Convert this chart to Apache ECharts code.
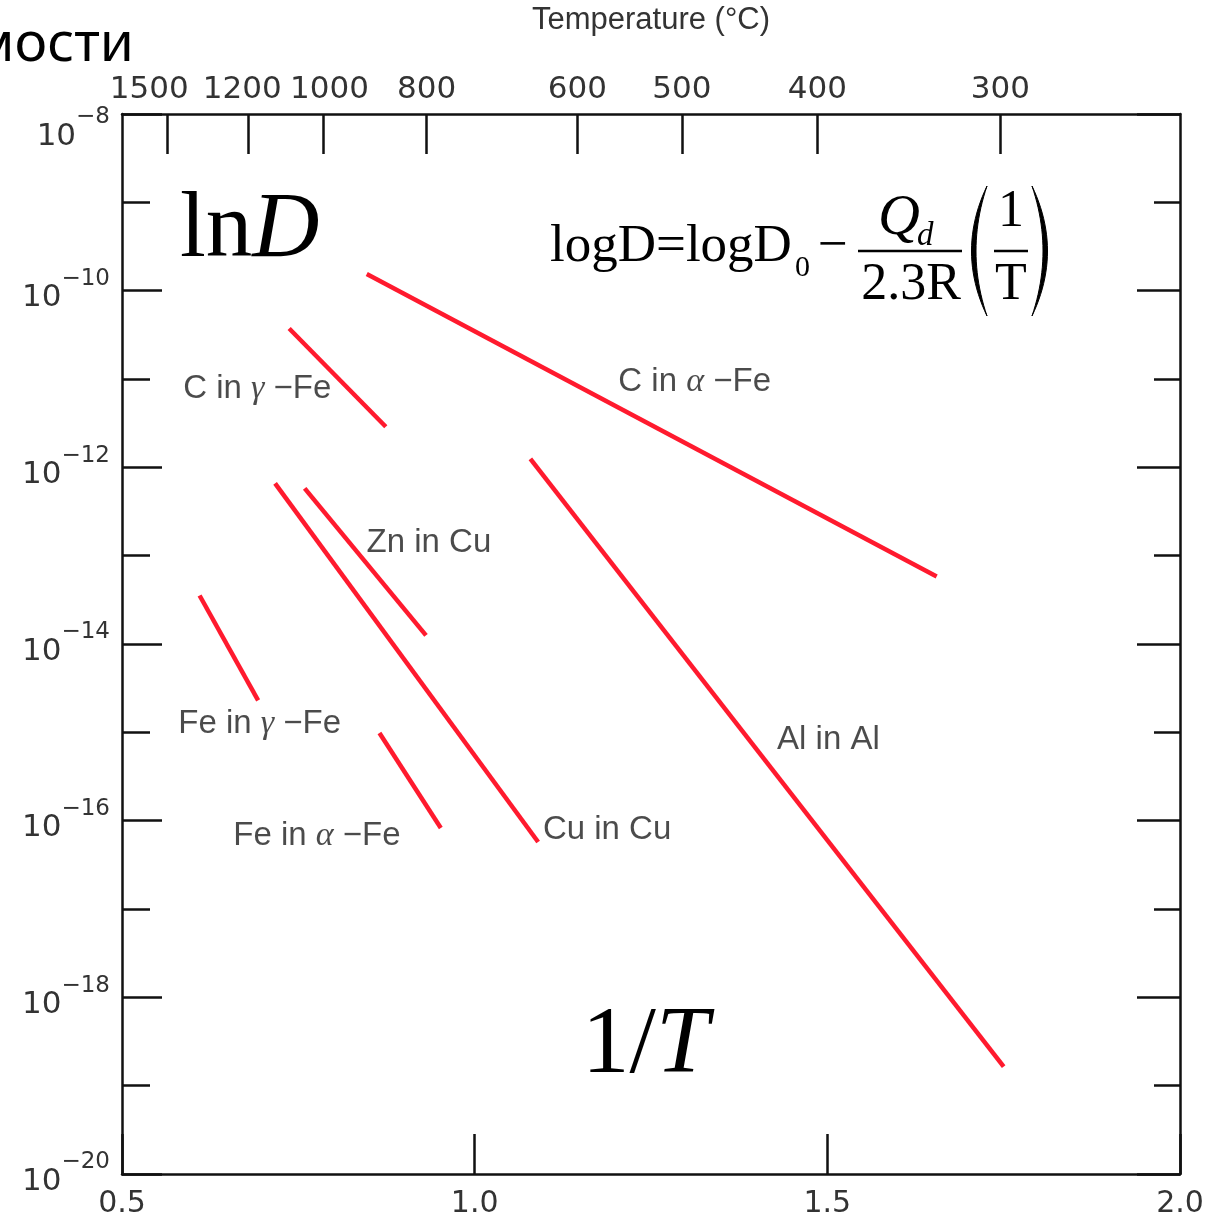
<!DOCTYPE html>
<html>
<head>
<meta charset="utf-8">
<script src="https://cdn.jsdelivr.net/npm/echarts@6/dist/echarts.min.js"></script>
<style>
  html, body { margin: 0; padding: 0; background: #fff; }
  #chart { width: 1211px; height: 1225px; }
</style>
</head>
<body>
<div id="chart"></div>
<script>
// Diffusion coefficient D (m^2/s) against 1000/T (K^-1): [1000/T, D] end points of each couple
const cInAlphaFe = [[0.847, 1.54e-10], [1.655, 5.81e-14]];
const cInGammaFe = [[0.737, 3.73e-11], [0.874, 2.88e-12]];
const znInCu     = [[0.759, 5.78e-13], [0.931, 1.25e-14]];
const cuInCu     = [[0.717, 6.59e-13], [1.090, 5.74e-17]];
const feInGammaFe = [[0.610, 3.54e-14], [0.693, 2.30e-15]];
const feInAlphaFe = [[0.865, 9.82e-16], [0.952, 8.26e-17]];
const alInAl     = [[1.079, 1.245e-12], [1.750, 1.64e-19]];

// Names of the couples, in the same order as the series below
const coupleNames = ['C in α −Fe', 'C in γ −Fe', 'Zn in Cu', 'Cu in Cu', 'Fe in γ −Fe', 'Fe in α −Fe', 'Al in Al'];
// Where each name is written, in data units [1000/T, D]
const labelAnchors = [[1.203, 9.33e-12], [0.586, 7.76e-12], [0.846, 1.38e-13], [1.096, 7.76e-17],
                      [0.579, 1.23e-15], [0.657, 6.76e-17], [1.428, 8.13e-16]];

// Axis ticks
const inverseTTicks = [0.5, 1.0, 1.5, 2.0];
const temperatureTicksC = [1500, 1200, 1000, 800, 600, 500, 400, 300];
const logDRange = [-20, -8];

const couples = [cInAlphaFe, cInGammaFe, znInCu, cuInCu, feInGammaFe, feInAlphaFe, alInAl];

const RED = '#ff1a2e';
const AXIS = '#111';
const SANS = '"Liberation Sans", Arial, sans-serif';
const SERIF = '"Liberation Serif", "Times New Roman", serif';
const NUM = '"DejaVu Sans", sans-serif';

const toLog = pts => pts.map(([x, d]) => [x, Math.log10(d)]);

// Label text with Greek letters set in italic serif
const richName = s => '{t|' + s.replace(/([αγ])/g, '}{g|$1}{t|') + '}';

// Crescent outline for a tall bracket: ends at (xEnd, yTop)/(xEnd, yBottom), bulging to xOuter
function bracketPoints(xEnd, yTop, yBottom, xOuter, xInner) {
  const pts = [];
  const ym = (yTop + yBottom) / 2;
  const n = 24;
  for (let i = 0; i <= n; i++) {
    const t = i / n, u = 1 - t;
    pts.push([u * u * xEnd + 2 * u * t * xOuter + t * t * xEnd, u * u * yTop + 2 * u * t * ym + t * t * yBottom]);
  }
  for (let i = n; i >= 0; i--) {
    const t = i / n, u = 1 - t;
    pts.push([u * u * xEnd + 2 * u * t * xInner + t * t * xEnd, u * u * yTop + 2 * u * t * ym + t * t * yBottom]);
  }
  return pts;
}

const lineSeries = couples.map((pts, i) => ({
  type: 'line',
  name: coupleNames[i],
  data: toLog(pts),
  symbol: 'none',
  lineStyle: { color: RED, width: 4.5, cap: 'butt' },
  emphasis: { disabled: true },
  silent: true,
  z: 3
}));

const labelSeries = {
  type: 'scatter',
  symbolSize: 1,
  itemStyle: { color: 'rgba(0,0,0,0)' },
  silent: true,
  data: labelAnchors.map((a, i) => ({ name: coupleNames[i], value: [a[0], Math.log10(a[1])] })),
  label: {
    show: true,
    position: 'right',
    distance: 0,
    color: '#1e1e1e',
    formatter: p => richName(p.name),
    rich: {
      t: { fontFamily: SANS, fontSize: 33, color: '#1e1e1e' },
      g: { fontFamily: SERIF, fontStyle: 'italic', fontSize: 34, color: '#1e1e1e' }
    }
  },
  labelLayout: { hideOverlap: false },
  z: 4
};

const tickLine = { color: AXIS, width: 2.5 };

// Powers of ten on the D axis; the top one is pushed just below its tick by an empty first line
const yRich = {
  b: { fontFamily: NUM, fontSize: 31, color: '#333', lineHeight: 46, verticalAlign: 'bottom' },
  s: { fontFamily: NUM, fontSize: 23, color: '#333', lineHeight: 23, verticalAlign: 'top' },
  gap: { fontSize: 1, lineHeight: 30 }
};

// Shifts that keep the crowded high-temperature labels apart
const topRich = {
  n: { fontFamily: NUM, fontSize: 31, color: '#333' },
  l18: { fontFamily: NUM, fontSize: 31, color: '#333', padding: [0, 36, 0, 0] },
  l5: { fontFamily: NUM, fontSize: 31, color: '#333', padding: [0, 12, 0, 0] },
  r6: { fontFamily: NUM, fontSize: 31, color: '#333', padding: [0, 0, 0, 12] }
};
const topShift = { 1500: 'l18', 1200: 'l5', 1000: 'r6' };

const yAxisBase = {
  type: 'value',
  min: logDRange[0],
  max: logDRange[1],
  interval: 2,
  splitLine: { show: false },
  axisLine: { show: true, lineStyle: { color: AXIS, width: 2.5 } }
};

const textMid = { verticalAlign: 'middle', textVerticalAlign: 'middle' };
const textMidCenter = { align: 'center', textAlign: 'center', verticalAlign: 'middle', textVerticalAlign: 'middle' };

const option = {
  animation: false,
  backgroundColor: '#fff',
  grid: { left: 122, right: 31, top: 113, bottom: 51, containLabel: false },
  xAxis: [
    {
      type: 'value',
      position: 'bottom',
      min: inverseTTicks[0],
      max: inverseTTicks[inverseTTicks.length - 1],
      interval: 0.5,
      splitLine: { show: false },
      axisLine: { show: true, onZero: false, lineStyle: { color: AXIS, width: 2.5 } },
      axisTick: { show: true, inside: true, length: 40, lineStyle: tickLine },
      axisLabel: {
        margin: 15,
        fontFamily: NUM, fontSize: 30, color: '#333',
        formatter: v => v.toFixed(1)
      }
    },
    {
      type: 'value',
      position: 'top',
      min: inverseTTicks[0],
      max: inverseTTicks[inverseTTicks.length - 1],
      name: 'Temperature (°C)',
      nameLocation: 'middle',
      nameGap: 78,
      nameTextStyle: { fontFamily: SANS, fontSize: 31, color: '#333' },
      splitLine: { show: false },
      axisLine: { show: true, onZero: false, lineStyle: { color: AXIS, width: 2.5 } },
      axisTick: {
        show: true, inside: true, length: 40, lineStyle: tickLine,
        customValues: temperatureTicksC.map(c => 1000 / (c + 273))
      },
      axisLabel: {
        margin: 9,
        fontFamily: NUM, fontSize: 31, color: '#333',
        customValues: temperatureTicksC.map(c => 1000 / (c + 273)),
        formatter: v => {
          const c = Math.round(1000 / v - 273);
          return '{' + (topShift[c] || 'n') + '|' + c + '}';
        },
        rich: topRich
      }
    }
  ],
  yAxis: [
    Object.assign({}, yAxisBase, {
      position: 'left',
      axisTick: { show: true, inside: true, length: 40, lineStyle: tickLine },
      minorTick: { show: true, splitNumber: 2, length: 28, lineStyle: tickLine },
      axisLabel: {
        margin: 12,
        formatter: v => (v === logDRange[1]
          ? '{gap| }\n{b|10}{s|−' + (-v) + '}'
          : '{b|10}{s|−' + (-v) + '}'),
        rich: yRich
      }
    }),
    Object.assign({}, yAxisBase, {
      position: 'right',
      axisTick: { show: true, inside: true, length: 43, lineStyle: tickLine },
      minorTick: { show: true, splitNumber: 2, length: 26, lineStyle: tickLine },
      axisLabel: { show: false }
    })
  ],
  series: lineSeries.concat([labelSeries]),
  graphic: {
    elements: [
      // end of the slide heading
      { type: 'text', x: 134, y: 45, silent: true,
        style: Object.assign({ text: 'мости', font: '55px "Noto Sans", sans-serif', fill: '#000',
                 align: 'right', textAlign: 'right' }, textMid) },
      // ln D
      { type: 'text', x: 180, y: 232, silent: true,
        style: Object.assign({ text: '{a|ln}{b|D}', fill: '#000',
                 rich: { a: { fontFamily: SERIF, fontSize: 93, color: '#000' },
                         b: { fontFamily: SERIF, fontSize: 93, fontStyle: 'italic', color: '#000' } } }, textMid) },
      // 1/T
      { type: 'text', x: 582, y: 1047, silent: true,
        style: Object.assign({ text: '{a|1/}{b|T}', fill: '#000',
                 rich: { a: { fontFamily: SERIF, fontSize: 95, color: '#000' },
                         b: { fontFamily: SERIF, fontSize: 95, fontStyle: 'italic', color: '#000' } } }, textMid) },
      // logD = logD0 - Qd / 2.3R (1/T)
      { type: 'text', x: 550, y: 247, silent: true,
        style: Object.assign({ text: 'logD=logD', font: '53px ' + SERIF, fill: '#000' }, textMid) },
      { type: 'text', x: 795, y: 268, silent: true,
        style: Object.assign({ text: '0', font: '30px ' + SERIF, fill: '#000' }, textMid) },
      { type: 'text', x: 818, y: 247, silent: true,
        style: Object.assign({ text: '−', font: '53px ' + SERIF, fill: '#000' }, textMid) },
      { type: 'text', x: 878, y: 219, silent: true,
        style: Object.assign({ text: 'Q', font: 'italic 58px ' + SERIF, fill: '#000' }, textMid) },
      { type: 'text', x: 917, y: 236, silent: true,
        style: Object.assign({ text: 'd', font: 'italic 33px ' + SERIF, fill: '#000' }, textMid) },
      { type: 'line', silent: true, shape: { x1: 858, y1: 251, x2: 962, y2: 251 },
        style: { stroke: '#000', lineWidth: 2.5 } },
      { type: 'text', x: 911, y: 285, silent: true,
        style: Object.assign({ text: '2.3R', font: '52px ' + SERIF, fill: '#000' }, textMidCenter) },
      { type: 'polygon', silent: true,
        shape: { points: bracketPoints(987, 186, 316, 956, 965) },
        style: { fill: '#000', stroke: '#000', lineWidth: 1 } },
      { type: 'polygon', silent: true,
        shape: { points: bracketPoints(1032, 186, 316, 1063, 1054) },
        style: { fill: '#000', stroke: '#000', lineWidth: 1 } },
      { type: 'line', silent: true, shape: { x1: 994, y1: 251, x2: 1028, y2: 251 },
        style: { stroke: '#000', lineWidth: 2.5 } },
      { type: 'text', x: 1011, y: 212, silent: true,
        style: Object.assign({ text: '1', font: '52px ' + SERIF, fill: '#000' }, textMidCenter) },
      { type: 'text', x: 1011, y: 285, silent: true,
        style: Object.assign({ text: 'T', font: '52px ' + SERIF, fill: '#000' }, textMidCenter) }
    ]
  }
};

const chart = echarts.init(document.getElementById('chart'), null, { renderer: 'canvas' });
chart.setOption(option);
</script>
</body>
</html>
